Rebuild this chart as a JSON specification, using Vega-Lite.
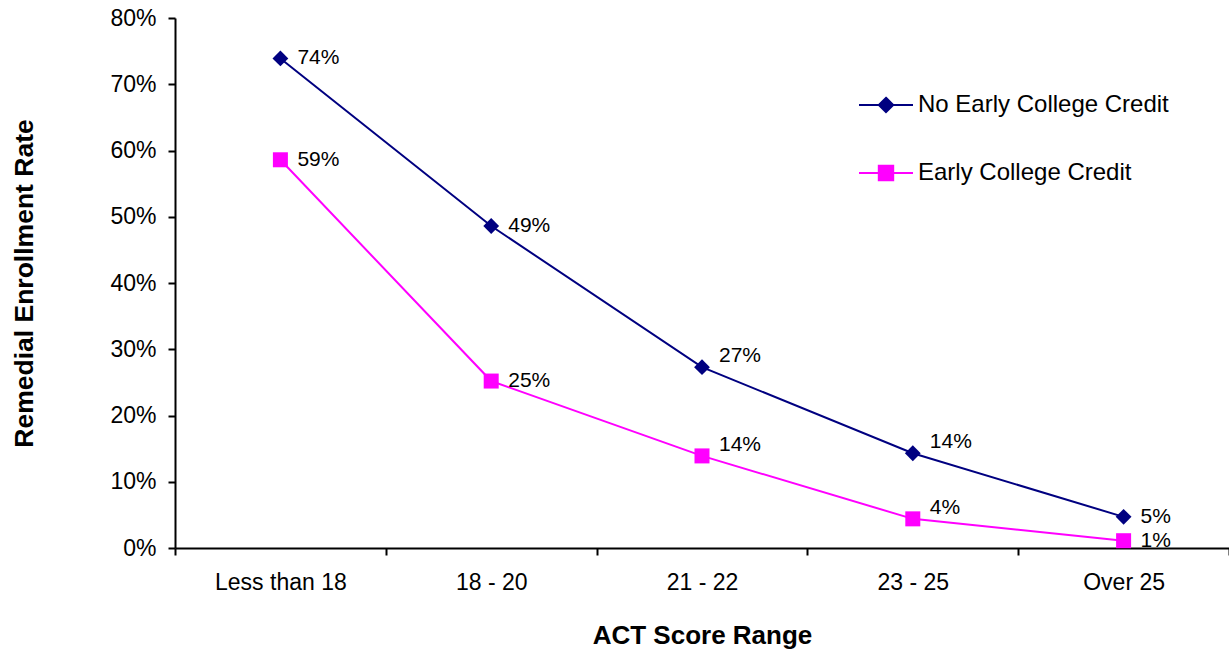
{
  "$schema": "https://vega.github.io/schema/vega-lite/v6.json",
  "width": 1054,
  "height": 530,
  "autosize": {"type": "none"},
  "padding": {"left": 175, "top": 18, "right": 0, "bottom": 103},
  "background": "white",
  "config": {
    "view": {"stroke": null},
    "font": "Liberation Sans",
    "axis": {
      "domainColor": "black",
      "domainWidth": 2,
      "tickColor": "black",
      "tickWidth": 2,
      "tickSize": 7,
      "labelColor": "black",
      "labelFont": "Liberation Sans",
      "titleFont": "Liberation Sans",
      "titleColor": "black",
      "titleFontWeight": "bold",
      "grid": false
    }
  },
  "data": {
    "values": [
      {"range": "Less than 18", "series": "No Early College Credit", "rate": 0.739},
      {"range": "18 - 20", "series": "No Early College Credit", "rate": 0.486},
      {"range": "21 - 22", "series": "No Early College Credit", "rate": 0.273},
      {"range": "23 - 25", "series": "No Early College Credit", "rate": 0.143},
      {"range": "Over 25", "series": "No Early College Credit", "rate": 0.047},
      {"range": "Less than 18", "series": "Early College Credit", "rate": 0.586},
      {"range": "18 - 20", "series": "Early College Credit", "rate": 0.252},
      {"range": "21 - 22", "series": "Early College Credit", "rate": 0.139},
      {"range": "23 - 25", "series": "Early College Credit", "rate": 0.044},
      {"range": "Over 25", "series": "Early College Credit", "rate": 0.011}
    ]
  },
  "encoding": {
    "x": {
      "field": "range",
      "type": "nominal",
      "sort": ["Less than 18", "18 - 20", "21 - 22", "23 - 25", "Over 25"],
      "scale": {"type": "band", "paddingInner": 0, "paddingOuter": 0},
      "axis": {
        "title": "ACT Score Range",
        "titleFontSize": 26,
        "titlePadding": 28,
        "labelFontSize": 23,
        "labelPadding": 16,
        "labelAngle": 0,
        "tickBand": "extent"
      }
    },
    "y": {
      "field": "rate",
      "type": "quantitative",
      "scale": {"domain": [0, 0.8]},
      "axis": {
        "title": "Remedial Enrollment Rate",
        "titleFontSize": 26.5,
        "titlePadding": 71,
        "labelFontSize": 23,
        "labelPadding": 12,
        "values": [0, 0.1, 0.2, 0.3, 0.4, 0.5, 0.6, 0.7, 0.8],
        "format": ".0%"
      }
    },
    "color": {
      "field": "series",
      "type": "nominal",
      "scale": {
        "domain": ["No Early College Credit", "Early College Credit"],
        "range": ["#000080", "#FF00FF"]
      },
      "legend": {
        "title": null,
        "orient": "none",
        "legendX": 699,
        "legendY": 75,
        "padding": 0,
        "labelFontSize": 24,
        "labelFont": "Liberation Sans",
        "labelColor": "black",
        "labelLimit": 0,
        "symbolSize": 400,
        "symbolStrokeWidth": 2,
        "rowPadding": 44,
        "labelOffset": 20,
        "encode": {
          "symbols": {
            "update": {
              "shape": {"signal": "datum.value === 'No Early College Credit' ? 'M-2.7,0H2.7M0,-0.72L0.72,0L0,0.72L-0.72,0Z' : 'M-2.7,0H2.7M-0.72,-0.72H0.72V0.72H-0.72Z'"},
              "fill": {"signal": "datum.value === 'No Early College Credit' ? '#000080' : '#FF00FF'"},
              "stroke": {"signal": "datum.value === 'No Early College Credit' ? '#000080' : '#FF00FF'"},
              "fillOpacity": {"value": 1},
              "strokeOpacity": {"value": 1},
              "opacity": {"value": 1}
            }
          }
        }
      }
    }
  },
  "layer": [
    {"mark": {"type": "line", "strokeWidth": 2}},
    {
      "transform": [{"filter": "datum.series === 'No Early College Credit'"}],
      "mark": {"type": "point", "filled": true, "size": 250, "opacity": 1, "shape": "diamond"}
    },
    {
      "transform": [{"filter": "datum.series === 'Early College Credit'"}],
      "mark": {"type": "point", "filled": true, "size": 225, "opacity": 1, "shape": "square"}
    },
    {
      "transform": [{"filter": "datum.range !== '21 - 22' && datum.range !== '23 - 25'"}],
      "mark": {"type": "text", "align": "left", "baseline": "middle", "dx": 17, "fontSize": 21, "color": "black"},
      "encoding": {
        "text": {"field": "rate", "type": "quantitative", "format": ".0%"},
        "color": {"value": "black"}
      }
    },
    {
      "transform": [{"filter": "datum.range === '21 - 22' || datum.range === '23 - 25'"}],
      "mark": {"type": "text", "align": "left", "baseline": "middle", "dx": 17, "dy": -11, "fontSize": 21, "color": "black"},
      "encoding": {
        "text": {"field": "rate", "type": "quantitative", "format": ".0%"},
        "color": {"value": "black"}
      }
    }
  ]
}
